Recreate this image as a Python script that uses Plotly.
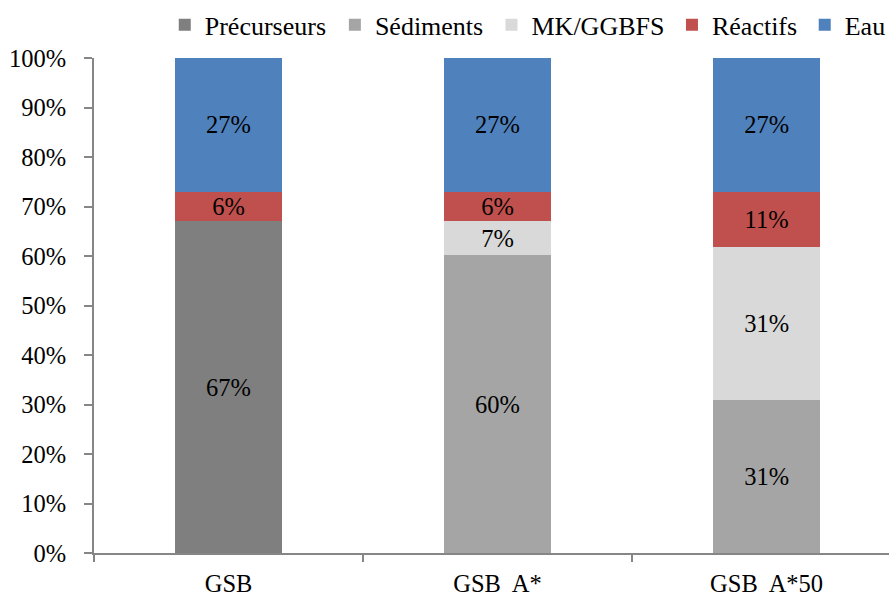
import plotly.graph_objects as go

categories = ["GSB", "GSB\u00a0 A*", "GSB\u00a0 A*50"]
precurseurs = [67.0, 0.0, 0.0]
sediments = [0.0, 60.2, 30.9]
mk_ggbfs = [0.0, 6.8, 30.9]
reactifs = [6.0, 6.0, 11.2]
eau = [27.0, 27.0, 27.0]
y_ticks = [0, 10, 20, 30, 40, 50, 60, 70, 80, 90, 100]

series = [
    ("Précurseurs", precurseurs, "#7f7f7f"),
    ("Sédiments", sediments, "#a5a5a5"),
    ("MK/GGBFS", mk_ggbfs, "#d9d9d9"),
    ("Réactifs", reactifs, "#c0504d"),
    ("Eau", eau, "#4f81bd"),
]
legend_x = [0.089, 0.303, 0.500, 0.727, 0.894]

FONT = "Liberation Serif"

fig = go.Figure()
legend_layouts = {}
for i, (name, vals, color) in enumerate(series):
    lg = "legend" if i == 0 else f"legend{i + 1}"
    fig.add_trace(go.Bar(
        x=categories, y=vals, name=name, legend=lg,
        marker=dict(color=color, line=dict(width=0)),
        text=[f"{v:.0f}%" if v > 0 else "" for v in vals],
        textposition="inside", insidetextanchor="middle",
        constraintext="none",
        textfont=dict(family=FONT, size=24.5, color="black"),
        hoverinfo="skip",
    ))
    legend_layouts[lg] = dict(orientation="h", x=legend_x[i], y=1.067, yanchor="middle",
                              xanchor="left", font=dict(family=FONT, size=26, color="black"),
                              itemwidth=30, bgcolor="rgba(0,0,0,0)")

fig.update_layout(
    barmode="stack", bargap=0.6,
    width=889, height=596,
    margin=dict(l=94, r=0, t=58, b=43, autoexpand=False),
    paper_bgcolor="white", plot_bgcolor="white",
    font=dict(family=FONT, size=24.5, color="black"),
    showlegend=True,
    xaxis=dict(range=[-0.5, 2.455], showline=True, linecolor="#868686", linewidth=2,
               ticks="outside", tickson="boundaries", ticklen=7, tickcolor="#868686",
               tickwidth=2, showgrid=False, ticklabelstandoff=8,
               tickfont=dict(family=FONT, size=24.5)),
    yaxis=dict(range=[0, 100], tickvals=y_ticks, ticktext=[f"{t}%" for t in y_ticks],
               showline=True, linecolor="#868686", linewidth=2, ticks="outside",
               ticklen=8, tickcolor="#868686", tickwidth=2, showgrid=False,
               zeroline=False, ticklabelstandoff=13,
               tickfont=dict(family=FONT, size=24.5)),
    **legend_layouts,
)
fig.write_html("out.html", config={"displayModeBar": False},
               post_script="document.body.style.margin='0';document.body.style.overflow='hidden';")
